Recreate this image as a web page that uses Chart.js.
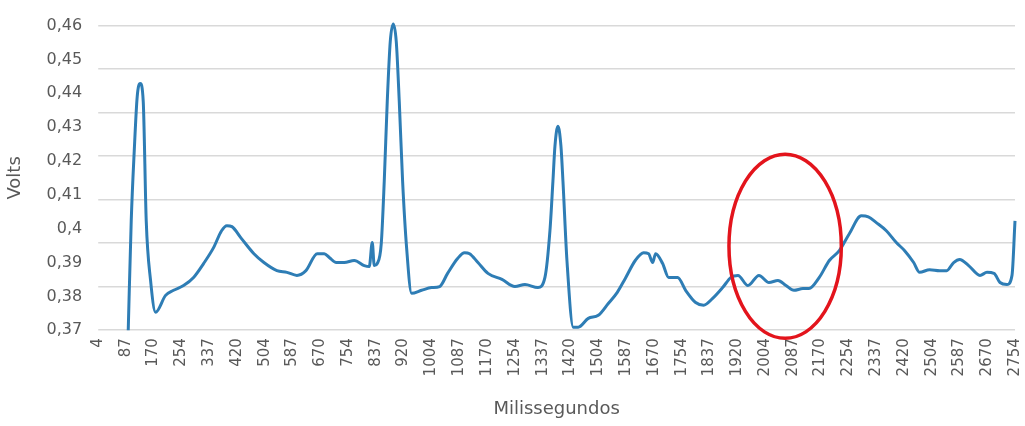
<!DOCTYPE html>
<html>
<head>
<meta charset="utf-8">
<script src="https://cdn.jsdelivr.net/npm/chart.js@4"></script>
<style>
  html, body { margin: 0; padding: 0; background: #fff; }
  #wrap { width: 1025px; height: 426px; }
</style>
</head>
<body>
<div id="wrap"><canvas id="myChart"></canvas></div>
<script>
// tempo (ms) e tensao (V)
const tempos = [94, 103, 112, 121, 130, 139, 148, 161, 176, 206, 230, 260, 290, 320, 350, 374, 390, 405, 432, 471,
  501, 540, 570, 600, 627, 661, 682, 697, 718, 742, 772, 802, 817, 826, 832, 841, 853, 862, 871, 880,
  889, 898, 907, 917, 929, 944, 974, 1004, 1028, 1052, 1082, 1103, 1118, 1143, 1173, 1215, 1254, 1284, 1323, 1344,
  1359, 1368, 1374, 1383, 1392, 1398, 1410, 1429, 1444, 1474, 1504, 1534, 1561, 1585, 1615, 1640, 1655, 1667, 1676, 1697,
  1715, 1742, 1766, 1796, 1820, 1847, 1877, 1902, 1923, 1953, 1986, 2016, 2043, 2067, 2091, 2118, 2136, 2167, 2197, 2227,
  2257, 2293, 2314, 2338, 2368, 2398, 2423, 2450, 2468, 2498, 2528, 2549, 2570, 2588, 2615, 2649, 2670, 2691, 2709, 2730,
  2745, 2754];
const volts = [0.370, 0.4023, 0.4229, 0.4391, 0.4429, 0.4376, 0.4023, 0.3847, 0.3753, 0.3803, 0.3818, 0.3832, 0.3856, 0.3897, 0.3944, 0.3994, 0.4009, 0.4006, 0.3973, 0.3926,
  0.3900, 0.3876, 0.3871, 0.3862, 0.3876, 0.3926, 0.3926, 0.3915, 0.3900, 0.3900, 0.3906, 0.3891, 0.3888, 0.3959, 0.3891, 0.3897, 0.3956, 0.4141, 0.4376, 0.4553,
  0.4605, 0.4553, 0.4376, 0.4141, 0.3944, 0.3809, 0.3818, 0.3826, 0.3829, 0.3868, 0.3912, 0.3929, 0.3926, 0.3900, 0.3868, 0.3850, 0.3829, 0.3835, 0.3826, 0.3856,
  0.3994, 0.4141, 0.4244, 0.4303, 0.4244, 0.4141, 0.3906, 0.3709, 0.3709, 0.3735, 0.3744, 0.3779, 0.3812, 0.3853, 0.3906, 0.3929, 0.3926, 0.3900, 0.3926, 0.3897,
  0.3856, 0.3856, 0.3818, 0.3782, 0.3774, 0.3794, 0.3826, 0.3856, 0.3862, 0.3832, 0.3862, 0.3841, 0.3847, 0.3832, 0.3818, 0.3823, 0.3823, 0.3856, 0.3906, 0.3935,
  0.3985, 0.4038, 0.4035, 0.4018, 0.3994, 0.3959, 0.3935, 0.3900, 0.3871, 0.3879, 0.3876, 0.3876, 0.3900, 0.3909, 0.3891, 0.3862, 0.3871, 0.3868, 0.3841, 0.3835,
  0.3862, 0.4023];

// rotulos do eixo x
const xTicks = [4, 87, 170, 254, 337, 420, 504, 587, 670, 754, 837, 920, 1004, 1087, 1170, 1254, 1337, 1420,
  1504, 1587, 1670, 1754, 1837, 1920, 2004, 2087, 2170, 2254, 2337, 2420, 2504, 2587, 2670, 2754];

// elipse vermelha (ms min, ms max, V min, V max)
const destaque = [1896, 2233, 0.3676, 0.422];

const cinza = '#595959';

const elipse = {
    id: 'elipse',
    afterDatasetsDraw(chart) {
        const x = chart.scales.x, y = chart.scales.y, ctx = chart.ctx;
        const x0 = x.getPixelForValue(destaque[0]), x1 = x.getPixelForValue(destaque[1]);
        const y0 = y.getPixelForValue(destaque[2]), y1 = y.getPixelForValue(destaque[3]);
        ctx.save();
        ctx.beginPath();
        ctx.ellipse((x0 + x1) / 2, (y0 + y1) / 2, Math.abs(x1 - x0) / 2, Math.abs(y0 - y1) / 2, 0, 0, Math.PI * 2);
        ctx.strokeStyle = '#e3141c';
        ctx.lineWidth = 3.5;
        ctx.stroke();
        ctx.restore();
    }
};

const data = {
    datasets: [{
        label: 'Volts',
        data: tempos.map((t, i) => ({ x: t, y: volts[i] })),
        borderColor: '#2e7db5',
        borderWidth: 3,
        pointRadius: 0,
        cubicInterpolationMode: 'monotone',
        clip: false
    }]
};

const config = {
    type: 'line',
    data: data,
    options: {
        responsive: true,
        maintainAspectRatio: false,
        animation: false,
        layout: { padding: { left: 5, right: 2, top: 20, bottom: 6 } },
        plugins: { legend: { display: false }, tooltip: { enabled: false } },
        scales: {
            x: {
                type: 'linear',
                min: 4,
                max: 2754,
                afterBuildTicks: axis => { axis.ticks = xTicks.map(v => ({ value: v })); },
                afterFit: axis => { axis.paddingRight = 10; axis.paddingLeft = 0; },
                grid: { display: false, drawTicks: false },
                border: { display: false },
                ticks: {
                    color: cinza,
                    font: { family: 'DejaVu Sans', size: 15 },
                    minRotation: 90,
                    maxRotation: 90,
                    autoSkip: false,
                    padding: 8,
                    callback: v => String(v)
                },
                title: {
                    display: true,
                    text: 'Milissegundos',
                    color: cinza,
                    font: { family: 'DejaVu Sans', size: 18 },
                    padding: { top: 14, bottom: 0 }
                }
            },
            y: {
                min: 0.37,
                max: 0.46,
                grid: { display: false, drawTicks: false },
                border: { display: false },
                ticks: {
                    stepSize: 0.01,
                    color: cinza,
                    font: { family: 'DejaVu Sans', size: 16 },
                    padding: 16,
                    callback: v => String(Math.round(v * 100) / 100).replace('.', ',')
                },
                title: {
                    display: true,
                    text: 'Volts',
                    color: cinza,
                    font: { family: 'DejaVu Sans', size: 18 },
                    padding: { top: 0, bottom: 4 }
                }
            },
            g: {
                type: 'linear',
                position: 'right',
                min: 0,
                max: 7,
                afterFit: axis => { axis.width = 0; },
                ticks: { display: false, stepSize: 1 },
                grid: { color: '#d9d9d9', lineWidth: 1.5, drawTicks: false },
                border: { display: false }
            }
        }
    },
    plugins: [elipse]
};

const myChart = new Chart(document.getElementById('myChart'), config);
</script>
</body>
</html>
